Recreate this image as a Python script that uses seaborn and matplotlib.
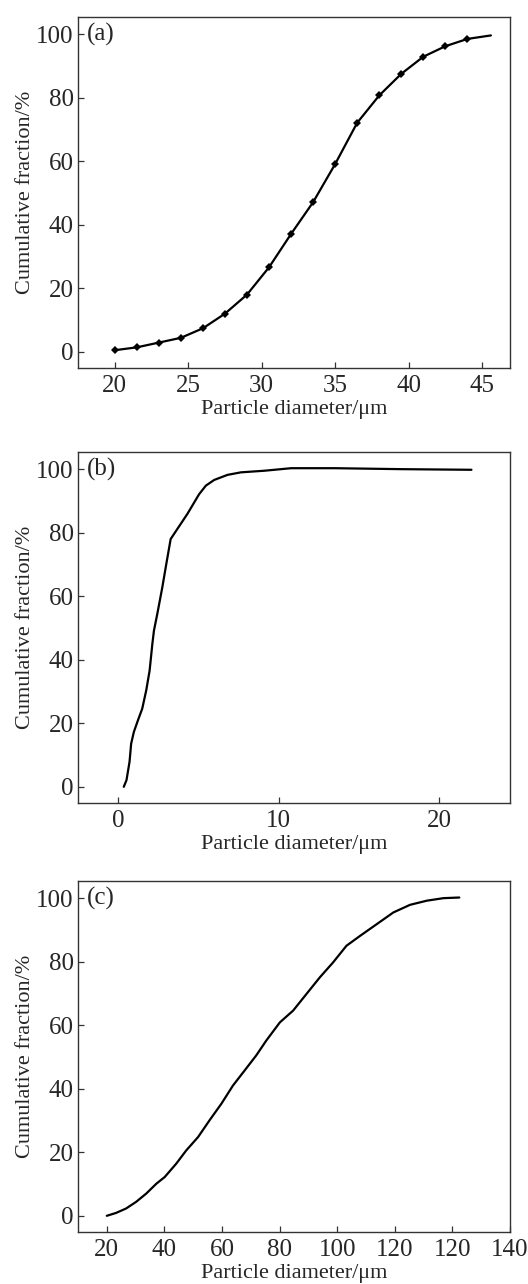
import matplotlib
matplotlib.use("Agg")
import matplotlib.pyplot as plt
import seaborn as sns
import pandas as pd

# ---- data ----
a_x = [20, 21.5, 23, 24.5, 26, 27.5, 29, 30.5, 32, 33.5, 35, 36.5, 38, 39.5, 41, 42.5, 44, 45.6]
a_y = [0.5, 1.4, 2.9, 4.4, 7.4, 12.0, 18.0, 26.6, 37.1, 47.1, 59.1, 72.1, 80.7, 87.5, 92.9, 96.2, 98.5, 99.6]

b_x = [0.35, 0.52, 0.71, 0.81, 0.98, 1.23, 1.5, 1.75, 1.96, 2.13, 2.23, 2.44, 2.75, 3.0, 3.27,
       3.69, 4.31, 5.04, 5.46, 5.98, 6.81, 7.65, 9.1, 10.77, 13.5, 17.6, 22.0]
b_y = [0, 2.1, 7.9, 13.6, 17.3, 20.9, 24.6, 30.4, 36.6, 45.0, 49.2, 54.5, 62.8, 70.2, 78.0,
       81.2, 85.9, 92.1, 94.8, 96.6, 98.2, 99.0, 99.5, 100.3, 100.3, 100.0, 99.8]

c_x = [20, 23.2, 26.7, 30.2, 33.7, 37.2, 40.1, 44.1, 47.6, 51.7, 55.7, 59.8, 63.8, 67.9, 71.9,
       75.4, 80.1, 84.7, 89.3, 94.0, 98.6, 103.2, 107.9, 113.7, 119.5, 125.3, 131.1, 136.9, 142.4]
c_y = [0, 0.9, 2.3, 4.4, 7.0, 10.1, 12.2, 16.4, 20.6, 24.8, 30.1, 35.3, 41.0, 45.8, 50.5,
       55.2, 60.9, 64.6, 69.8, 75.1, 79.8, 85.0, 88.1, 91.8, 95.5, 97.9, 99.2, 100.0, 100.2]

y_ticks = [0, 20, 40, 60, 80, 100]
a_xticks = [20, 25, 30, 35, 40, 45]
b_xticks = [0, 10, 20]
c_xticks = [20, 40, 60, 80, 100, 120, 140, 160]
c_xticklabels = ["20", "40", "60", "80", "100", "120", "120", "140"]
panel_labels = ["(a)", "(b)", "(c)"]
xlabel = "Particle diameter/\u03bcm"
ylabel = "Cumulative fraction/%"

# ---- style ----
sns.set_style("ticks")
plt.rcParams["font.family"] = ["Liberation Serif", "DejaVu Serif"]

fig = plt.figure(figsize=(5.28, 12.84), dpi=100)
left, width, height = 78 / 528, 432 / 528, 351 / 1284
bottoms = [1 - 368 / 1284, 1 - 803 / 1284, 1 - 1232 / 1284]
axes = [fig.add_axes([left, b, width, height]) for b in bottoms]

fs_tick = 18
fs_lab = 16
spine_color = "#333333"

# panel a
df_a = pd.DataFrame({"x": a_x, "y": a_y})
sns.lineplot(data=df_a, x="x", y="y", ax=axes[0], color="black", lw=1.6,
             marker="D", markersize=4.5, markeredgewidth=0, markevery=list(range(len(a_x) - 1)),
             estimator=None, sort=False)
axes[0].set_xlim(17.5, 46.9)
axes[0].set_xticks(a_xticks)

# panel b
df_b = pd.DataFrame({"x": b_x, "y": b_y})
sns.lineplot(data=df_b, x="x", y="y", ax=axes[1], color="black", lw=1.6,
             estimator=None, sort=False)
axes[1].set_xlim(-2.5, 24.4)
axes[1].set_xticks(b_xticks)

# panel c
df_c = pd.DataFrame({"x": c_x, "y": c_y})
sns.lineplot(data=df_c, x="x", y="y", ax=axes[2], color="black", lw=1.6,
             estimator=None, sort=False)
axes[2].set_xlim(10, 160)
axes[2].set_xticks(c_xticks)
axes[2].set_xticklabels(c_xticklabels)

for ax, lab in zip(axes, panel_labels):
    ax.set_ylim(-5.1, 105.4)
    ax.set_yticks(y_ticks)
    ax.set_xlabel(xlabel, fontsize=fs_lab, labelpad=2)
    ax.set_ylabel(ylabel, fontsize=fs_lab, labelpad=1)
    ax.tick_params(axis="both", labelsize=fs_tick, direction="in", length=4.5, width=0.9,
                   color=spine_color)
    ax.tick_params(axis="y", pad=3)
    ax.tick_params(axis="x", pad=5)
    for s in ax.spines.values():
        s.set_visible(True)
        s.set_color(spine_color)
        s.set_linewidth(1.0)
    ax.text(0.02, 0.951, lab, transform=ax.transAxes, fontsize=fs_tick,
            ha="left", va="center")

fig.savefig("out.png", dpi=100)
